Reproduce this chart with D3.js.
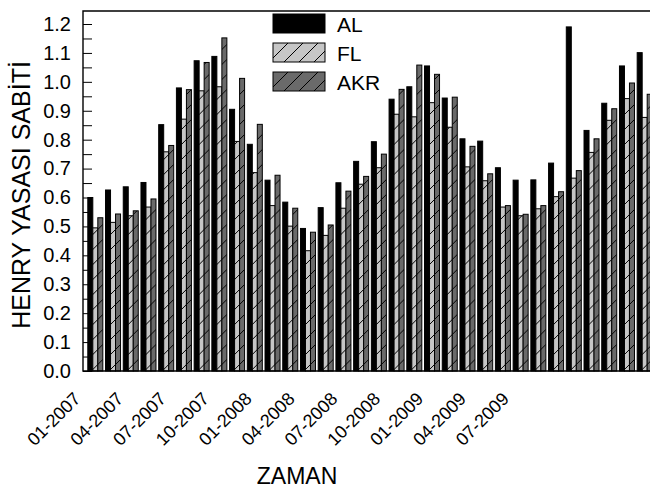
<!DOCTYPE html>
<html>
<head>
<meta charset="utf-8">
<script src="https://cdn.jsdelivr.net/npm/d3@7"></script>
<style>
  body { margin: 0; background: #fff; }
  text { font-family: "Liberation Sans", Arial, sans-serif; fill: #000; }
</style>
</head>
<body>
<div id="chart"></div>
<script>
// monthly values, 01-2007 .. 08-2009
const months = ["01-2007","02-2007","03-2007","04-2007","05-2007","06-2007","07-2007","08-2007",
  "09-2007","10-2007","11-2007","12-2007","01-2008","02-2008","03-2008","04-2008",
  "05-2008","06-2008","07-2008","08-2008","09-2008","10-2008","11-2008","12-2008",
  "01-2009","02-2009","03-2009","04-2009","05-2009","06-2009","07-2009","08-2009"];
const AL  = [0.600,0.626,0.637,0.652,0.852,0.979,1.073,1.088,0.905,0.784,0.660,0.584,0.493,0.565,0.651,0.725,
             0.793,0.940,0.983,1.055,0.944,0.803,0.795,0.703,0.660,0.661,0.719,1.190,0.832,0.926,1.055,1.101];
const FL  = [0.495,0.514,0.537,0.567,0.758,0.871,0.969,0.983,0.794,0.686,0.572,0.501,0.416,0.469,0.563,0.646,
             0.703,0.888,0.879,0.928,0.843,0.706,0.658,0.567,0.537,0.561,0.603,0.667,0.756,0.867,0.942,0.877];
const AKR = [0.530,0.543,0.554,0.595,0.780,0.973,1.067,1.152,1.012,0.853,0.677,0.563,0.480,0.505,0.622,0.673,
             0.750,0.974,1.058,1.026,0.947,0.777,0.682,0.572,0.542,0.572,0.620,0.693,0.803,0.907,0.996,0.957];
const seriesNames = ["AL", "FL", "AKR"];
const tickLabels = ["01-2007","04-2007","07-2007","10-2007","01-2008","04-2008",
                    "07-2008","10-2008","01-2009","04-2009","07-2009"];

const W = 650, H = 489;
const plotL = 83, plotR = 656, plotT = 11, plotB = 371;

const svg = d3.select("#chart").append("svg")
    .attr("width", W).attr("height", H);

// hatch patterns
const defs = svg.append("defs");
function hatch(id, color) {
    const p = defs.append("pattern")
        .attr("id", id)
        .attr("patternUnits", "userSpaceOnUse")
        .attr("width", 15).attr("height", 15);
    p.append("rect").attr("width", 15).attr("height", 15).attr("fill", color);
    p.append("path")
        .attr("d", "M-2,2 l4,-4 M0,15 l15,-15 M13,17 l4,-4")
        .attr("stroke", "#000").attr("stroke-width", 1);
}
hatch("hatchFL", "#c6c6c6");
hatch("hatchAKR", "#6a6a6a");
const fills = { AL: "#000", FL: "url(#hatchFL)", AKR: "url(#hatchAKR)" };

const rows = months.map((m, i) => ({ month: m, AL: AL[i], FL: FL[i], AKR: AKR[i] }));

const x0 = d3.scaleBand().domain(months).range([plotL, plotR])
    .paddingInner(0.153).paddingOuter(0.243);
const x1 = d3.scaleBand().domain(seriesNames).range([0, x0.bandwidth()]);
const y = d3.scaleLinear().domain([0, 1.245]).range([plotB, plotT]);

// bars
svg.append("g")
  .selectAll("g")
  .data(rows)
  .join("g")
    .attr("transform", d => `translate(${x0(d.month)},0)`)
  .selectAll("rect")
  .data(d => seriesNames.map(k => ({ key: k, value: d[k] })))
  .join("rect")
    .attr("x", d => x1(d.key) + 0.5)
    .attr("y", d => y(d.value))
    .attr("width", x1.bandwidth())
    .attr("height", d => y(0) - y(d.value))
    .attr("fill", d => fills[d.key])
    .attr("stroke", "#000")
    .attr("stroke-width", 1);

// y axis, ticks inward, minor every 0.05
const yAxis = d3.axisLeft(y)
    .tickValues(d3.range(0, 1.2001, 0.05))
    .tickSize(-9)
    .tickSizeOuter(0)
    .tickPadding(12)
    .tickFormat((d, i) => i % 2 === 0 ? d3.format(".1f")(d) : "");
const gy = svg.append("g")
    .attr("transform", `translate(${plotL},0)`)
    .call(yAxis);
gy.select(".domain").remove();
gy.selectAll(".tick line").attr("stroke", "#000");
gy.selectAll("text").style("font-size", "20px").attr("font-family", null);

// frame
svg.append("path")
    .attr("d", `M${plotR},${plotT}H${plotL}V${plotB}H${plotR}`)
    .attr("fill", "none").attr("stroke", "#000").attr("stroke-width", 1.4);

// x tick labels
const xl = d3.scalePoint().domain(tickLabels).range([81.5, 510]);
svg.append("g")
  .selectAll("text")
  .data(tickLabels)
  .join("text")
    .attr("transform", d => `translate(${xl(d)},400) rotate(-45)`)
    .attr("text-anchor", "end")
    .style("font-size", "18px")
    .text(d => d);

// axis titles
svg.append("text")
    .attr("x", 297).attr("y", 484)
    .attr("text-anchor", "middle")
    .style("font-size", "23px")
    .text("ZAMAN");
svg.append("text")
    .attr("transform", "translate(30,195) rotate(-90)")
    .attr("text-anchor", "middle")
    .style("font-size", "25px")
    .text("HENRY YASASI SABİTİ");

// legend
const legend = svg.append("g")
  .selectAll("g")
  .data(seriesNames)
  .join("g")
    .attr("transform", (d, i) => `translate(273,${14 + i * 29})`);
legend.append("rect")
    .attr("width", 52).attr("height", 19)
    .attr("fill", d => fills[d])
    .attr("stroke", "#000").attr("stroke-width", 1);
legend.append("text")
    .attr("x", 64).attr("y", 17.5)
    .style("font-size", "21px")
    .text(d => d);
</script>
</body>
</html>
